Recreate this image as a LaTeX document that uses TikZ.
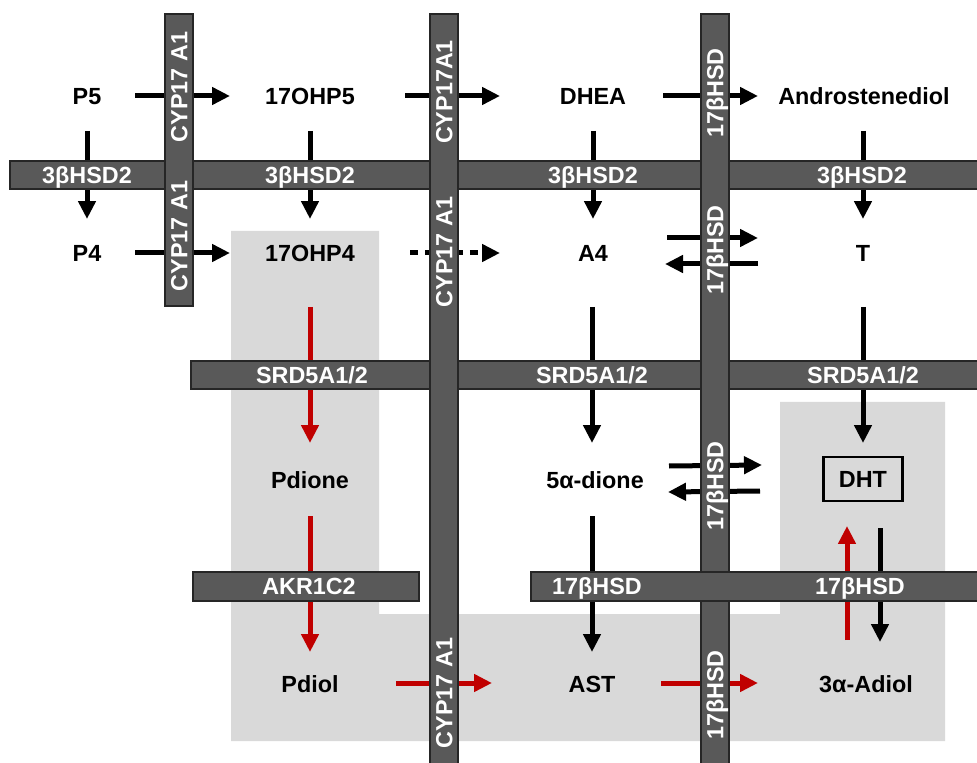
\documentclass[tikz,border=0pt]{standalone}
\usepackage{fontspec}
\setmainfont{Liberation Sans}
\usetikzlibrary{arrows.meta,calc}
\definecolor{barfill}{HTML}{595959}
\definecolor{barline}{HTML}{262626}
\definecolor{lightbg}{HTML}{D9D9D9}
\definecolor{redarr}{HTML}{C00000}
\begin{document}
\begin{tikzpicture}[x=0.02cm,y=-0.02cm,
  chem/.style={font=\fontsize{13.3}{15}\selectfont\bfseries, text height=9.5pt, text depth=0pt, inner sep=0pt},
  barlab/.style={chem, text=white},
  vlab/.style={barlab, rotate=90},
  enzbar/.style={fill=barfill, draw=barline, line width=0.6pt},
  arr/.style={line width=0.1cm, -{Triangle[length=0.36cm,width=0.34cm]}},
  redarrow/.style={arr, color=redarr},
  dotarr/.style={arr, dash pattern=on 0.16cm off 0.14cm},
]
\useasboundingbox (0,0) rectangle (977,763);
% shaded region
\fill[lightbg] (231,231) -- (379,231) -- (379,614) -- (780,614) -- (780,402) -- (945,402) -- (945,741) -- (231,741) -- cycle;

% compounds
\node[chem] (p5) at (87,96) {P5};
\node[chem] (ohp5) at (310,96) {17OHP5};
\node[chem] (dhea) at (593,96) {DHEA};
\node[chem] (adiol5) at (864,96) {Androstenediol};
\node[chem] (p4) at (87,253) {P4};
\node[chem] (ohp4) at (310,253) {17OHP4};
\node[chem] (a4) at (593,253) {A4};
\node[chem] (t) at (863,253) {T};
\node[chem] (pdione) at (310,480) {Pdione};
\node[chem] (dione) at (595,480) {5α-dione};
\node[chem, draw, line width=1.4pt, minimum width=1.58cm, minimum height=0.88cm] (dht) at (863,479) {DHT};
\node[chem] (pdiol) at (310,684) {Pdiol};
\node[chem] (ast) at (592,684) {AST};
\node[chem] (adiol3) at (866,684) {3α-Adiol};

% horizontal arrows
\draw[arr] ($(p5)+(48,0)$) -- ($(ohp5)+(-80,0)$);
\draw[arr] ($(ohp5)+(95,0)$) -- ($(dhea)+(-93,0)$);
\draw[arr] ($(dhea)+(70,0)$) -- ($(adiol5)+(-106,0)$);
\draw[arr] ($(p4)+(48,0)$) -- ($(ohp4)+(-80,0)$);
\draw[dotarr] ($(ohp4)+(100,0)$) -- ($(a4)+(-93,0)$);
\draw[arr] ($(a4)+(74,-15)$) -- ($(t)+(-105,-15)$);
\draw[arr] ($(t)+(-105,11)$) -- ($(a4)+(72,11)$);
\draw[arr] ($(dione)+(74,-14)$) -- ($(dht)+(-101,-14)$);
\draw[arr] ($(dht)+(-103,12)$) -- ($(dione)+(73,12)$);
\draw[redarrow] ($(pdiol)+(86,-1)$) -- ($(ast)+(-100,-1)$);
\draw[redarrow] ($(ast)+(69,-1)$) -- ($(adiol3)+(-108,-1)$);

% vertical arrows
\draw[arr] ($(p5)+(0,35)$) -- ($(p4)+(0,-34)$);
\draw[arr] ($(ohp5)+(0,35)$) -- ($(ohp4)+(0,-34)$);
\draw[arr] ($(dhea)+(0,35)$) -- ($(a4)+(0,-34)$);
\draw[arr] ($(adiol5)+(-1,35)$) -- ($(t)+(0,-34)$);
\draw[redarrow] ($(ohp4)+(0,54)$) -- ($(pdione)+(0,-37)$);
\draw[redarrow] ($(pdione)+(0,36)$) -- ($(pdiol)+(0,-32)$);
\draw[arr] ($(a4)+(-1,54)$) -- ($(dione)+(-3,-37)$);
\draw[arr] ($(dione)+(-3,36)$) -- ($(ast)+(0,-32)$);
\draw[arr] ($(t)+(0,54)$) -- ($(dht)+(0,-36)$);
\draw[redarrow] ($(adiol3)+(-19,-44)$) -- ($(dht)+(-16,47)$);
\draw[arr] ($(dht)+(17,49)$) -- ($(adiol3)+(14,-42)$);

% enzyme bars
\draw[enzbar] (10,161) rectangle (980,189);
\draw[enzbar] (191,361) rectangle (980,389);
\draw[enzbar] (165,14) rectangle (193,306);
\draw[enzbar] (430,14) rectangle (458,770);
\draw[enzbar] (701,14) rectangle (729,770);
\draw[enzbar] (193,572) rectangle (419,601);
\draw[enzbar] (531,572) rectangle (980,601);

% bar labels
\node[barlab] (h1a) at (87,175) {3βHSD2};
\node[barlab] (h1b) at (310,175) {3βHSD2};
\node[barlab] (h1c) at (593,175) {3βHSD2};
\node[barlab] (h1d) at (862,175) {3βHSD2};
\node[barlab] (h2a) at (312,375) {SRD5A1/2};
\node[barlab] (h2b) at (592,375) {SRD5A1/2};
\node[barlab] (h2c) at (863,375) {SRD5A1/2};
\node[barlab] (h3a) at (309,586) {AKR1C2};
\node[barlab] (h4a) at (597,586) {17βHSD};
\node[barlab] (h4b) at (860,586) {17βHSD};
\node[vlab] (v1a) at (179,87) {CYP17 A1};
\node[vlab] (v1b) at (179,236) {CYP17 A1};
\node[vlab] (v2a) at (444,92) {CYP17A1};
\node[vlab] (v2b) at (444,252) {CYP17 A1};
\node[vlab] (v2c) at (444,693) {CYP17 A1};
\node[vlab] (v3a) at (715,93) {17βHSD};
\node[vlab] (v3b) at (715,250) {17βHSD};
\node[vlab] (v3c) at (715,486) {17βHSD};
\node[vlab] (v3d) at (715,695) {17βHSD};
\end{tikzpicture}
\end{document}
